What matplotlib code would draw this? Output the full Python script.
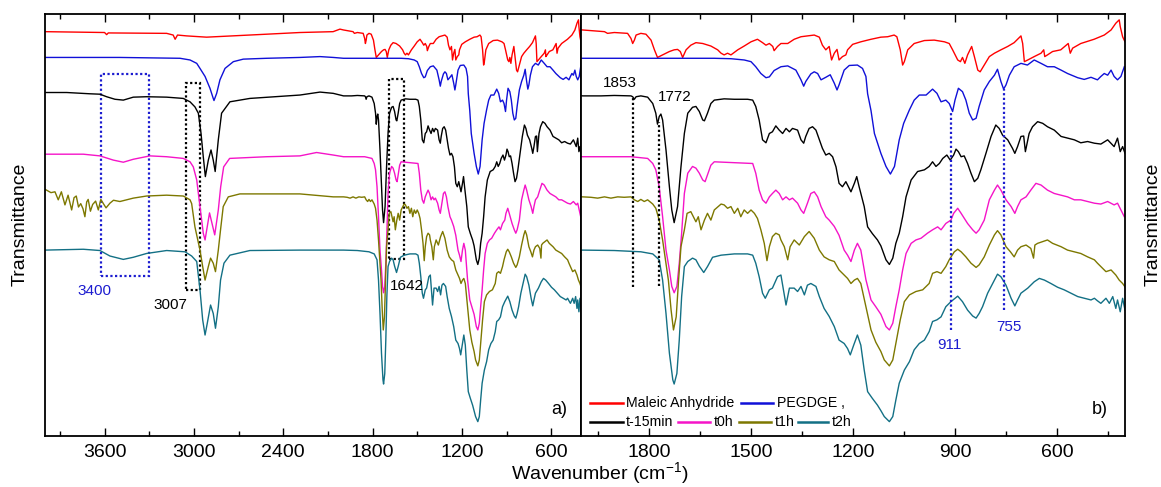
import matplotlib
matplotlib.use('Agg')
import matplotlib.pyplot as plt
from matplotlib.patches import Rectangle
from matplotlib.ticker import MultipleLocator

plt.rcParams['font.family'] = ['Liberation Sans', 'DejaVu Sans']
plt.rcParams['mathtext.default'] = 'regular'

# ---------------- data (wavenumber cm-1, stacked transmittance, a.u.) ----------------
red_wn = [4000, 3631, 3600, 3586, 3575, 3183, 3139, 3126, 3110, 3049, 2915, 2736, 2512, 2288, 2065, 2019,
          1995, 1961, 1931, 1922, 1902, 1863, 1853, 1848, 1843, 1838, 1824, 1809, 1794, 1784, 1775, 1760,
          1740, 1726, 1716, 1708, 1701, 1691, 1677, 1662, 1642, 1618, 1598, 1588, 1579, 1569, 1559, 1539,
          1520, 1500, 1481, 1466, 1456, 1446, 1436, 1432, 1422, 1412, 1392, 1373, 1353, 1334, 1314, 1299,
          1290, 1280, 1270, 1263, 1255, 1247, 1241, 1231, 1221, 1216, 1201, 1177, 1147, 1118, 1098, 1079,
          1071, 1061, 1054, 1049, 1039, 1020, 990, 961, 931, 917, 907, 892, 884, 878, 871, 863, 851, 843,
          833, 826, 814, 799, 784, 765, 745, 726, 706, 701, 696, 686, 667, 647, 639, 636, 628, 613, 589,
          567, 561, 554, 530, 491, 461, 441, 427, 417, 414, 407, 400]
red_t = [95.7, 95.5, 95.5, 95.0, 95.4, 95.3, 94.9, 93.9, 94.9, 94.7, 94.4, 94.7, 95.1, 95.5, 95.7, 96.3,
         96.1, 95.9, 95.7, 95.3, 95.5, 95.3, 94.1, 92.9, 93.7, 94.9, 95.3, 95.1, 93.7, 91.4, 89.6, 90.2,
         91.0, 91.4, 91.5, 91.0, 89.6, 91.4, 92.5, 93.1, 92.9, 92.3, 91.4, 90.6, 90.2, 90.6, 90.2, 91.4,
         92.3, 93.3, 93.9, 93.1, 92.5, 92.9, 92.2, 91.2, 92.2, 92.9, 92.9, 93.9, 94.5, 94.7, 94.9, 94.4,
         92.5, 91.4, 92.2, 89.0, 90.6, 91.5, 89.0, 89.8, 90.2, 91.4, 92.7, 93.3, 93.9, 94.4, 94.5, 94.9,
         94.5, 91.4, 87.8, 88.6, 91.4, 92.9, 93.6, 93.7, 93.3, 92.9, 91.4, 89.0, 88.6, 89.6, 88.2, 90.2, 92.2, 89.8,
         86.6, 86.2, 87.8, 89.8, 90.6, 91.4, 92.2, 93.1, 94.7, 92.9, 88.6, 89.0, 89.8, 90.6, 91.4, 89.8, 90.2, 91.0, 91.4,
         92.9, 90.6, 91.8, 92.9, 93.9, 94.9, 96.1, 97.7, 98.5, 96.9, 94.5, 93.3]

blue_wn = [4000, 3500, 3093, 3026, 2981, 2959, 2925, 2892, 2870, 2865, 2847, 2825, 2791, 2735, 2668, 2511,
           2287, 2153, 2064, 1995, 1804, 1608, 1559, 1520, 1500, 1486, 1471, 1456, 1446, 1432, 1412, 1392,
           1368, 1353, 1345, 1339, 1324, 1314, 1304, 1294, 1280, 1267, 1255, 1247, 1241, 1226, 1211, 1187,
           1172, 1162, 1157, 1147, 1137, 1118, 1103, 1090, 1078, 1064, 1051, 1034, 1020, 1005, 985, 966,
           953, 941, 927, 917, 907, 900, 890, 878, 868, 858, 848, 838, 829, 814, 799, 784, 775, 765, 757,
           750, 740, 726, 706, 687, 667, 647, 628, 608, 588, 569, 539, 520, 500, 481, 471, 461, 451, 441,
           432, 422, 412, 402]
blue_t = [89.6, 89.6, 89.4, 89.0, 88.2, 87.0, 85.1, 82.3, 79.9, 79.4, 81.1, 84.3, 87.0, 88.6, 89.2, 89.4,
          89.6, 89.8, 89.6, 89.4, 89.4, 89.4, 89.3, 89.0, 88.6, 87.4, 85.8, 84.8, 85.0, 86.5, 87.4, 87.6,
          86.6, 84.3, 82.8, 83.9, 85.7, 86.2, 85.8, 84.3, 84.9, 85.5, 83.5, 81.9, 83.1, 86.6, 87.7, 87.8,
          87.0, 85.1, 81.0, 77.0, 71.6, 66.9, 63.8, 62.0, 63.8, 70.1, 74.0, 77.2, 79.5, 80.7, 80.7, 82.1,
          81.1, 79.1, 79.5, 78.7, 76.8, 79.5, 82.3, 81.5, 79.5, 76.4, 74.8, 75.2, 78.0, 81.9, 83.9, 85.4, 86.8, 83.9, 82.1,
          83.1, 85.4, 87.4, 88.2, 87.8, 89.0, 88.2, 87.4, 87.4, 86.6, 85.8, 84.8, 84.4, 84.9, 84.3, 85.1, 85.8, 85.4, 86.6,
          85.1, 84.3, 85.1, 87.4]

black_wn = [4000, 3854, 3700, 3631, 3586, 3530, 3474, 3407, 3318, 3183, 3071, 3026, 2993, 2970, 2952, 2937,
            2923, 2903, 2885, 2870, 2857, 2836, 2814, 2758, 2624, 2288, 2153, 2064, 1995, 1941, 1902, 1853,
            1848, 1843, 1838, 1824, 1804, 1789, 1780, 1775, 1770, 1765, 1760, 1750, 1740, 1733, 1726, 1716,
            1706, 1696, 1686, 1672, 1662, 1652, 1642, 1637, 1628, 1618, 1608, 1579, 1549, 1510, 1495, 1486,
            1476, 1466, 1456, 1446, 1437, 1427, 1417, 1407, 1397, 1387, 1378, 1363, 1353, 1345, 1339, 1329,
            1319, 1309, 1299, 1290, 1280, 1270, 1260, 1250, 1241, 1231, 1221, 1206, 1196, 1189, 1182, 1167,
            1157, 1143, 1128, 1118, 1103, 1093, 1083, 1074, 1064, 1054, 1044, 1029, 1010, 990, 976, 966, 956,
            946, 936, 924, 914, 904, 897, 890, 882, 873, 863, 853, 843, 833, 824, 809, 794, 780, 770, 760,
            745, 731, 724, 716, 706, 698, 693, 688, 682, 672, 657, 642, 628, 608, 588, 569, 549, 530, 510,
            490, 471, 451, 432, 422, 414, 407, 400]
black_t = [81.3, 81.3, 81.0, 80.9, 80.3, 79.7, 79.5, 80.2, 80.3, 80.2, 79.9, 79.1, 77.9, 76.4, 71.6, 66.1,
           61.4, 65.3, 67.7, 65.3, 62.6, 70.1, 76.4, 79.1, 79.9, 80.7, 81.4, 81.1, 80.5, 80.5, 80.6, 80.5,
           80.3, 79.7, 80.3, 80.5, 80.2, 78.7, 76.4, 73.8, 75.6, 76.2, 74.8, 67.7, 59.0, 53.5, 50.5, 54.3,
           63.7, 71.6, 76.4, 77.8, 78.0, 76.8, 74.8, 74.6, 76.4, 78.7, 79.5, 79.8, 79.7, 79.7, 79.5, 78.0,
           74.8, 70.1, 69.4, 71.6, 72.0, 73.4, 72.4, 71.6, 72.8, 72.0, 72.8, 72.4, 70.1, 69.3, 70.9, 72.8,
           73.2, 72.4, 70.1, 68.1, 66.5, 66.9, 66.1, 63.7, 59.8, 59.0, 60.2, 57.8, 59.8, 61.4, 59.0, 54.3,
           49.5, 47.9, 46.4, 45.0, 41.7, 40.6, 42.1, 45.6, 48.0, 51.9, 56.6, 60.6, 62.6, 63.0, 63.8, 64.9, 63.8,
           64.5, 65.7, 66.5, 65.3, 66.5, 67.9, 67.3, 66.1, 66.3, 64.5, 62.2, 60.2, 61.0, 63.0, 66.9, 70.9, 73.6, 72.8, 71.2,
           70.1, 68.1, 66.9, 68.5, 70.9, 71.0, 67.3, 69.3, 71.6, 73.2, 74.4, 74.0, 73.2, 72.4, 70.9, 70.5, 70.1, 69.4, 69.7,
           69.3, 69.1, 70.1, 68.5, 70.5, 67.3, 68.5, 66.9]

magenta_wn = [4000, 3743, 3631, 3541, 3474, 3407, 3295, 3183, 3071, 3026, 3004, 2981, 2959, 2937, 2925, 2895,
              2860, 2836, 2820, 2800, 2760, 2512, 2288, 2176, 2064, 1995, 1853, 1804, 1789, 1780, 1770, 1760,
              1750, 1740, 1733, 1726, 1718, 1711, 1704, 1696, 1686, 1672, 1662, 1652, 1642, 1635, 1628, 1618,
              1608, 1549, 1495, 1486, 1476, 1466, 1456, 1446, 1437, 1427, 1417, 1407, 1397, 1387, 1378, 1363,
              1353, 1345, 1334, 1324, 1314, 1304, 1294, 1280, 1270, 1255, 1241, 1226, 1216, 1206, 1196, 1187,
              1177, 1162, 1147, 1133, 1118, 1103, 1093, 1083, 1074, 1064, 1054, 1044, 1029, 1015, 1000, 981, 966,
              951, 941, 927, 912, 904, 892, 882, 863, 848, 838, 829, 814, 799, 784, 775, 765, 750, 735, 724,
              716, 706, 691, 677, 662, 647, 628, 608, 588, 569, 549, 530, 510, 490, 471, 451, 432, 422, 412, 402]
magenta_t = [66.7, 66.7, 66.3, 65.3, 64.8, 65.5, 66.3, 66.1, 65.7, 64.9, 63.7, 60.6, 54.3, 48.0, 46.4, 52.8,
             47.6, 53.5, 59.0, 63.7, 65.7, 66.1, 66.3, 67.1, 66.5, 66.1, 66.1, 65.7, 64.5, 63.0, 59.0, 51.9,
             44.0, 39.3, 35.4, 33.9, 35.4, 40.9, 48.0, 57.4, 62.2, 63.8, 63.4, 62.2, 60.6, 60.2, 61.8, 64.1,
             64.9, 64.7, 64.5, 62.2, 58.2, 55.9, 55.1, 56.6, 57.4, 58.2, 57.4, 55.9, 56.6, 55.9, 56.3, 55.1,
             53.5, 52.7, 55.1, 57.4, 57.8, 56.6, 54.3, 51.9, 51.1, 49.6, 47.5, 44.0, 42.8, 41.3, 44.0, 45.6,
             44.0, 37.0, 32.2, 30.6, 28.8, 25.9, 25.1, 26.7, 30.6, 34.6, 39.3, 43.2, 45.6, 46.4, 46.8, 48.0, 48.8,
             49.5, 48.8, 50.3, 51.1, 52.7, 53.9, 52.7, 50.3, 48.8, 48.0, 48.8, 51.1, 55.9, 58.2, 59.4, 58.2, 55.9, 54.3, 52.7,
             54.3, 55.9, 56.6, 58.2, 59.8, 59.4, 58.2, 57.4, 57.0, 56.6, 55.9, 55.9, 55.5, 55.1, 54.9, 55.5, 54.7, 55.1, 53.5, 51.9]

olive_wn = [4000, 3960, 3933, 3911, 3890, 3866, 3845, 3821, 3805, 3790, 3775, 3760, 3745, 3732, 3720, 3710,
            3695, 3680, 3660, 3642, 3625, 3608, 3590, 3564, 3540, 3497, 3407, 3318, 3183, 3071, 3026, 3015,
            2993, 2959, 2941, 2925, 2903, 2888, 2870, 2855, 2836,
            2821, 2803, 2769, 2691, 2512, 2288, 2064, 1995, 1971, 1951, 1931, 1912, 1892, 1873, 1853, 1843,
            1833, 1824, 1814, 1804, 1789, 1780, 1770, 1760, 1743, 1735, 1728, 1720, 1713, 1706, 1696, 1688,
            1677, 1662, 1655, 1647, 1637, 1628, 1618, 1608, 1588, 1579, 1569, 1559, 1549, 1539, 1530, 1520,
            1510, 1500, 1490, 1481, 1471, 1461, 1453, 1446, 1437, 1427, 1417, 1412, 1402, 1392, 1385, 1373,
            1358, 1343, 1329, 1314, 1299, 1285, 1270, 1255, 1241, 1226, 1216, 1206, 1196, 1187, 1177, 1162,
            1147, 1133, 1118, 1108, 1093, 1083, 1074, 1061, 1049, 1034, 1015, 995, 976, 966, 953, 941, 927,
            917, 902, 892, 882, 868, 853, 838, 829, 814, 799, 784, 775, 765, 750, 737, 726, 716, 706, 691,
            677, 669, 665, 657, 642, 628, 613, 588, 569, 549, 530, 510, 490, 481, 471, 456, 441, 427, 417, 407, 400]
olive_t = [58.4, 57.6, 57.8, 55.9, 57.8, 54.7, 57.0, 53.5, 56.4, 56.8, 54.2, 55.0, 53.8, 51.9, 55.4, 56.0,
           53.2, 54.8, 55.6, 53.5, 56.0, 55.0, 54.0, 55.1, 55.8, 55.5, 56.3, 56.8, 57.0, 56.8, 55.9, 55.0,
           49.5, 44.0, 40.1, 36.9, 40.1, 42.1, 40.9, 38.9, 44.0,
           48.8, 54.3, 56.6, 57.3, 57.3, 57.3, 56.6, 56.6, 56.5, 56.3, 56.6, 56.3, 56.6, 56.5, 56.6, 55.9,
           55.5, 56.0, 55.5, 55.9, 54.9, 53.9, 51.1, 46.4, 36.9, 29.8, 25.1, 28.2, 36.9, 44.8, 48.8, 52.7,
           53.1, 50.7, 51.9, 48.8, 51.1, 52.7, 51.1, 53.5, 54.9, 54.7, 53.9, 54.3, 52.7, 53.9, 51.9, 53.5,
           52.7, 53.5, 52.7, 51.5, 48.8, 45.6, 41.5, 44.8, 47.2, 48.0, 47.6, 46.4, 44.8, 41.7, 44.8, 46.4,
           45.2, 47.2, 48.4, 46.8, 44.0, 42.4, 41.7, 41.3, 39.3, 38.1, 37.3, 36.1, 36.9, 37.3, 36.1, 30.6,
           25.1, 22.2, 20.0, 18.0, 16.6, 18.0, 21.9, 27.5, 31.8, 33.4, 34.2, 34.6, 36.1, 38.5, 38.9, 38.5, 40.1,
           41.7, 43.6, 44.2, 43.6, 42.4, 40.9, 39.9, 40.5, 42.4, 45.2, 47.6, 48.6, 47.6, 44.8, 43.6, 42.4, 44.0, 44.8, 45.2,
           44.4, 42.1, 45.2, 45.6, 46.0, 46.4, 45.6, 44.8, 44.0, 43.6, 43.2, 42.4, 41.7, 40.9, 40.1, 38.9, 39.3, 38.1, 36.9, 36.1, 35.3]

teal_wn = [4000, 3743, 3631, 3564, 3474, 3407, 3318, 3183, 3060, 3015, 2981, 2959, 2941, 2925, 2910, 2888,
           2870, 2855, 2836, 2821, 2798, 2758, 2624, 2288, 2064, 1995, 1902, 1824, 1789, 1770, 1760, 1750,
           1740, 1730, 1726, 1718, 1711, 1704, 1696, 1686, 1672, 1662, 1652, 1639, 1628, 1613, 1588, 1549,
           1510, 1495, 1486, 1476, 1466, 1458, 1446, 1437, 1422, 1412, 1407, 1397, 1387, 1373, 1363, 1353,
           1343, 1334, 1324, 1309, 1299, 1285, 1270, 1255, 1241, 1226, 1216, 1208, 1198, 1187, 1177, 1167,
           1157, 1143, 1128, 1118, 1108, 1093, 1083, 1074, 1064, 1049, 1034, 1020, 1005, 990, 976, 966, 953,
           941, 927, 912, 892, 878, 863, 848, 838, 829, 819, 804, 789, 775, 765, 750, 735, 724, 716, 706,
           686, 667, 652, 637, 618, 598, 579, 559, 539, 520, 500, 490, 481, 471, 456, 446, 436, 427, 422, 414, 407, 400]
teal_t = [44.0, 44.2, 43.9, 42.6, 41.8, 42.3, 43.2, 43.9, 43.6, 42.6, 41.3, 34.6, 27.5, 23.9, 26.7, 31.0,
          29.0, 25.5, 30.6, 36.9, 40.9, 42.8, 43.9, 44.0, 44.0, 44.0, 43.9, 43.6, 43.1, 41.7, 36.9, 29.0,
          19.6, 13.3, 12.3, 14.8, 22.7, 33.0, 40.1, 41.3, 42.1, 41.7, 40.2, 38.7, 40.1, 42.3, 42.8, 43.1,
          43.1, 42.8, 40.9, 37.7, 33.8, 32.6, 34.6, 35.0, 37.7, 38.1, 35.7, 31.0, 35.0, 35.0, 34.2, 35.4,
          33.4, 35.7, 36.1, 35.4, 33.0, 30.2, 28.3, 25.9, 22.7, 21.9, 20.7, 19.2, 21.5, 23.9, 21.5, 15.6,
          10.5, 8.9, 7.3, 6.0, 4.6, 3.4, 4.6, 8.5, 12.5, 15.6, 17.6, 20.4, 21.9, 22.7, 24.7, 27.1, 27.5,
          28.2, 30.6, 31.8, 33.1, 31.8, 29.8, 28.4, 27.9, 29.0, 30.6, 33.8, 36.1, 38.3, 37.7, 35.7, 32.6, 30.8, 32.2, 33.8,
          35.0, 36.5, 37.3, 36.9, 36.1, 35.2, 34.6, 33.8, 33.0, 32.6, 32.2, 32.6, 32.0, 31.4, 32.6, 31.4, 33.0, 30.2, 32.2, 29.4, 32.6, 29.8]

series_names = ['Maleic Anhydride', 'PEGDGE ,', 't-15min', 't0h', 't1h', 't2h']
series_wn = [red_wn, blue_wn, black_wn, magenta_wn, olive_wn, teal_wn]
series_t = [red_t, blue_t, black_t, magenta_t, olive_t, teal_t]
series_colors = ['#ff0000', '#1010d8', '#000000', '#f514c8', '#7d7800', '#137085']

# annotations
box_3400 = (3624, 3302, 37.9, 85.7)
box_3007 = (3055, 2959, 34.6, 83.6)
box_1642 = (1688, 1587, 41.8, 84.4)
lines_black = [(1847, 35.3, 80.3), (1772, 35.4, 74.4)]
lines_blue = [(911, 25.1, 76.7), (755, 29.8, 82.1)]

BLUE_ANN = '#1c1cd0'
DOT = (0, (1, 1.1))

fig = plt.figure(figsize=(11.61, 4.87), dpi=100)
ax1 = fig.add_axes([45 / 1161, 51 / 487, 536 / 1161, 422.5 / 487])
ax2 = fig.add_axes([581 / 1161, 51 / 487, 544 / 1161, 422.5 / 487])

for ax in (ax1, ax2):
    for wn, t, c in zip(series_wn, series_t, series_colors):
        ax.plot(wn, t, color=c, lw=1.0)
    ax.set_ylim(0, 100)
    ax.set_yticks([])
    ax.tick_params(axis='x', which='both', direction='in', top=True, bottom=True,
                   labelsize=14, pad=6, width=1.0)
    ax.tick_params(axis='x', which='major', length=6)
    ax.tick_params(axis='x', which='minor', length=3.5)
    for s in ax.spines.values():
        s.set_linewidth(1.3)

ax1.set_xlim(4000, 400)
ax1.xaxis.set_major_locator(MultipleLocator(600))
ax1.xaxis.set_minor_locator(MultipleLocator(300))
ax2.set_xlim(2000, 400)
ax2.xaxis.set_major_locator(MultipleLocator(300))
ax2.xaxis.set_minor_locator(MultipleLocator(150))

ax1.set_ylabel('Transmittance', fontsize=14, labelpad=12)
ax2.yaxis.set_label_position('right')
ax2.set_ylabel('Transmittance', fontsize=14, labelpad=14)
fig.text(600 / 1161, 0.002, 'Wavenumber (cm$^{-1}$)', ha='center', va='bottom', fontsize=14)

# boxes in panel a
for (x0, x1, y0, y1), col in ((box_3400, BLUE_ANN), (box_3007, 'black'), (box_1642, 'black')):
    ax1.add_patch(Rectangle((x0, y0), x1 - x0, y1 - y0, fill=False, ec=col, lw=1.6, ls=DOT))
ax1.text(3669, 34.3, '3400', color=BLUE_ANN, fontsize=11, ha='center', va='center')
ax1.text(3156, 31.0, '3007', color='black', fontsize=11, ha='center', va='center')
ax1.text(1571, 35.5, '1642', color='black', fontsize=11, ha='center', va='center')
ax1.text(548, 6.2, 'a)', fontsize=13, ha='center', va='center')

# lines in panel b
for x, y0, y1 in lines_black:
    ax2.vlines(x, y0, y1, colors='black', lw=1.6, linestyles=[DOT])
for x, y0, y1 in lines_blue:
    ax2.vlines(x, y0, y1, colors=BLUE_ANN, lw=1.6, linestyles=[DOT])
ax2.text(1885, 83.6, '1853', fontsize=11, ha='center', va='center')
ax2.text(1724, 80.3, '1772', fontsize=11, ha='center', va='center')
ax2.text(917, 21.5, '911', color=BLUE_ANN, fontsize=11, ha='center', va='center')
ax2.text(741, 25.8, '755', color=BLUE_ANN, fontsize=11, ha='center', va='center')
ax2.text(474, 6.2, 'b)', fontsize=13, ha='center', va='center')

# legend (two rows, drawn in axes fraction)
legend_layout = [  # (series index, line start, line end, text x, row y)
    (0, 0.0165, 0.0767, 0.083, 0.0774),
    (1, 0.294, 0.353, 0.360, 0.0774),
    (2, 0.0165, 0.0767, 0.083, 0.0324),
    (3, 0.178, 0.237, 0.244, 0.0324),
    (4, 0.291, 0.350, 0.357, 0.0324),
    (5, 0.399, 0.454, 0.460, 0.0324),
]
for i, xa, xb, xt, yr in legend_layout:
    ax2.plot([xa, xb], [yr, yr], color=series_colors[i], lw=1.8, transform=ax2.transAxes)
    ax2.text(xt, yr, series_names[i], fontsize=10.2, ha='left', va='center', transform=ax2.transAxes)

fig.savefig('out.png', dpi=100)
